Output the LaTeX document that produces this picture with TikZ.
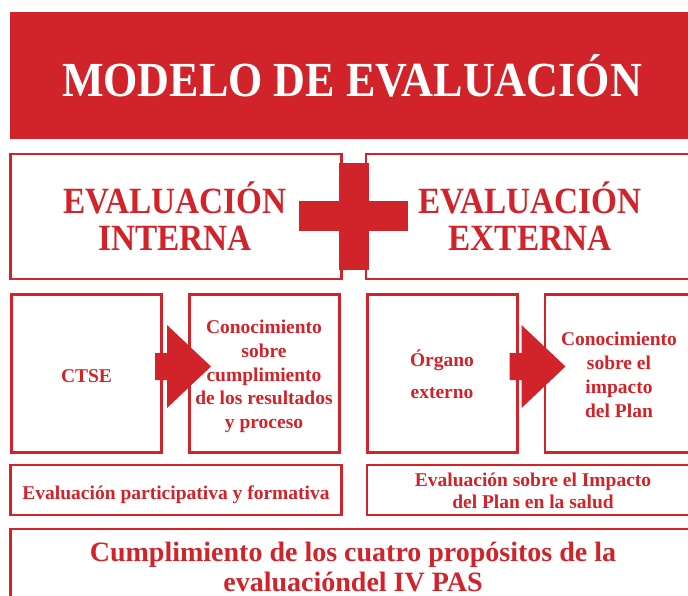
\documentclass[tikz,border=0pt]{standalone}
\usepackage{fontspec}
\setmainfont{Liberation Serif}
\newfontfamily\headfont[FakeStretch=0.9]{Liberation Serif}
\definecolor{pasred}{RGB}{208,35,42}
\begin{document}
\begin{tikzpicture}[x=1pt,y=-1pt,
  box/.style={draw=pasred, line width=2.5pt, inner sep=0pt, outer sep=0pt},
  redfill/.style={fill=pasred, draw=none, inner sep=0pt, outer sep=0pt},
  bodytxt/.style={text=pasred, font=\fontsize{19.5}{23.7}\selectfont\bfseries, align=center, inner sep=0pt},
  headtxt/.style={text=pasred, font=\headfont\fontsize{37}{37}\selectfont\bfseries, align=center, inner sep=0pt},
  pics/bigarr/.style={code={
    \fill[pasred] (-28,-13.5) -- (-16,-13.5) -- (-16,-41.5) -- (28,0) -- (-16,41.5) -- (-16,13.5) -- (-28,13.5) -- cycle;}}
]
\useasboundingbox (0,0) rectangle (688,595);
\begin{scope}
\clip (0,0) rectangle (688,595);
% title band
\node[redfill, minimum width=700pt, minimum height=127pt, anchor=north west] (band) at (9.5,12) {};
\node[text=white, font=\headfont\fontsize{49}{49}\selectfont\bfseries, anchor=base, inner sep=0pt] (title) at (352,96) {MODELO DE EVALUACIÓN};
% heading boxes
\node[box, minimum width=331pt, minimum height=125pt, anchor=north west] (intbox) at (10.5,154) {};
\node[box, minimum width=340pt, minimum height=125pt, anchor=north west] (extbox) at (366,154) {};
\node[headtxt, anchor=base] (int1) at (175,213) {EVALUACIÓN};
\node[headtxt, anchor=base] (int2) at (175,250) {INTERNA};
\node[headtxt, anchor=base] (ext1) at (530,213) {EVALUACIÓN};
\node[headtxt, anchor=base] (ext2) at (530,250) {EXTERNA};
% plus sign
\node[redfill, minimum width=30pt, minimum height=107pt] (plusv) at (353.5,216.5) {};
\node[redfill, minimum width=109pt, minimum height=30pt] (plush) at (353.5,216) {};
% process boxes
\node[box, minimum width=150pt, minimum height=158pt, anchor=north west] (ctse) at (11.5,294.5) {};
\node[box, minimum width=150pt, minimum height=158pt, anchor=north west] (con1) at (189.5,294.5) {};
\node[box, minimum width=150pt, minimum height=158pt, anchor=north west] (org) at (367.5,294.5) {};
\node[box, minimum width=150pt, minimum height=158pt, anchor=north west] (con2) at (545,294.5) {};
\node[bodytxt, anchor=base] (ctsetxt) at (86.5,382) {CTSE};
\node[bodytxt, anchor=base] (con1txt) at (264,428.5) {Conocimiento\\sobre\\cumplimiento\\de los resultados\\y proceso};
\node[bodytxt, anchor=base, font=\fontsize{19.5}{31.5}\selectfont\bfseries] (orgtxt) at (442,398) {Órgano\\externo};
\node[bodytxt, anchor=base] (con2txt) at (619,417) {Conocimiento\\sobre el\\impacto\\del Plan};
% big arrows between boxes
\pic at (183,366.5) {bigarr};
\pic at (537.5,366.5) {bigarr};
% summary boxes
\node[box, minimum width=331pt, minimum height=50pt, anchor=north west] (part) at (10.5,465) {};
\node[box, minimum width=340pt, minimum height=50pt, anchor=north west] (imp) at (367,465) {};
\node[bodytxt, anchor=base] (parttxt) at (176,499.3) {Evaluación participativa y formativa};
\node[bodytxt, anchor=base, font=\fontsize{19.5}{22.6}\selectfont\bfseries] (imptxt) at (533,508.6) {Evaluación sobre el Impacto\\del Plan en la salud};
% final box
\node[box, minimum width=700pt, minimum height=100pt, anchor=north west] (fin) at (10.5,529) {};
\node[bodytxt, anchor=base, font=\fontsize{28}{30}\selectfont\bfseries] (fintxt) at (353,591) {Cumplimiento de los cuatro propósitos de la\\evaluacióndel IV PAS};
\end{scope}
\end{tikzpicture}
\end{document}
